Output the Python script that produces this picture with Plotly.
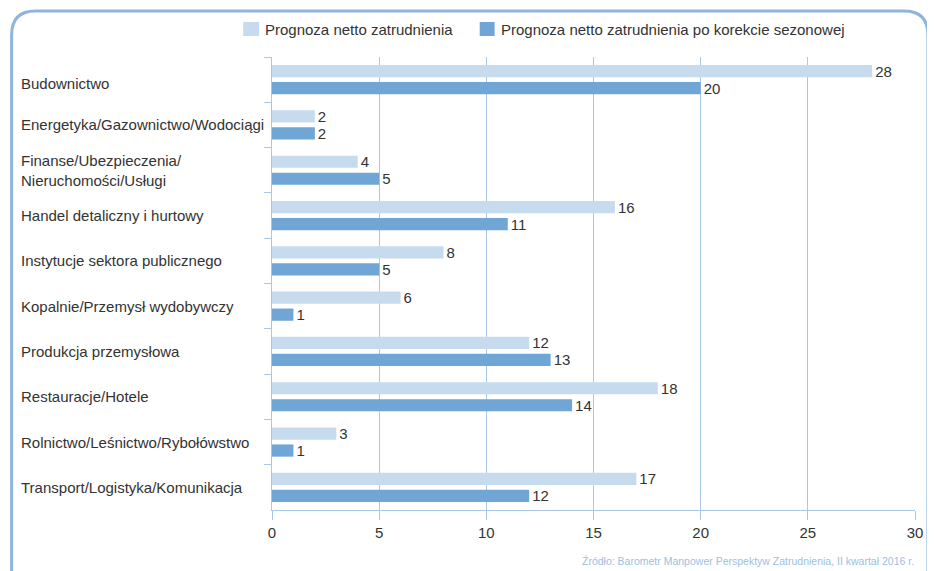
import plotly.graph_objects as go

categories = [
    "Budownictwo",
    "Energetyka/Gazownictwo/Wodociągi",
    "Finanse/Ubezpieczenia/<br>Nieruchomości/Usługi",
    "Handel detaliczny i hurtowy",
    "Instytucje sektora publicznego",
    "Kopalnie/Przemysł wydobywczy",
    "Produkcja przemysłowa",
    "Restauracje/Hotele",
    "Rolnictwo/Leśnictwo/Rybołówstwo",
    "Transport/Logistyka/Komunikacja",
]
netto = [28, 2, 4, 16, 8, 6, 12, 18, 3, 17]
netto_sezon = [20, 2, 5, 11, 5, 1, 13, 14, 1, 12]
series_names = ["Prognoza netto zatrudnienia",
                "Prognoza netto zatrudnienia po korekcie sezonowej"]
x_ticks = [0, 5, 10, 15, 20, 25, 30]
source_text = "Źródło: Barometr Manpower Perspektyw Zatrudnienia, II kwartał 2016 r."

# page body has an 8px margin -> figure placed at (8,8)
OFF = 8
W, H = 935 - OFF, 571 - OFF
L, R, T, B = 272 - OFF, 16, 57 - OFF, 61
PW, PH = W - L - R, H - T - B

LIGHT = "#c7dbee"
DARK = "#6fa6d6"
GRID = "#a9c8e6"
TXT = "#333333"
FONT = "Liberation Sans, Arial, sans-serif"
FS = 15


def px(x):
    # x in page pixels -> paper coordinate
    return (x - OFF - L) / PW


def py(y):
    return 1 - (y - OFF - T) / PH


fig = go.Figure()
for name, vals, col in [(series_names[0], netto, LIGHT), (series_names[1], netto_sezon, DARK)]:
    fig.add_trace(go.Bar(
        y=categories, x=vals, orientation="h", name=name,
        marker=dict(color=col, line=dict(width=0)),
        text=[str(v) for v in vals], textposition="outside",
        constraintext="none",
        textfont=dict(size=FS, color=TXT, family=FONT),
        cliponaxis=False,
    ))

annotations = []
for i, c in enumerate(categories):
    annotations.append(dict(
        x=px(17), xref="paper", y=c, yref="y", text=c, showarrow=False,
        xanchor="left", yanchor="middle", align="left",
        yshift=-4 if i == 0 else 0,
        font=dict(size=FS, color=TXT, family=FONT),
    ))

# legend (custom)
shapes = []
for (x0, x1, tx, col, name) in [(243, 259, 263, LIGHT, series_names[0]),
                                (481, 496, 500, DARK, series_names[1])]:
    shapes.append(dict(type="rect", xref="paper", yref="paper",
                       x0=px(x0), x1=px(x1), y0=py(36), y1=py(22),
                       fillcolor=col, line=dict(width=0)))
    annotations.append(dict(x=px(tx), xref="paper", y=py(30), yref="paper",
                            text=name, showarrow=False, xanchor="left",
                            yanchor="middle",
                            font=dict(size=FS, color=TXT, family=FONT)))

annotations.append(dict(x=px(920), xref="paper", y=py(561), yref="paper",
                        text=source_text, showarrow=False, xanchor="right",
                        yanchor="middle",
                        font=dict(size=10.5, color="#9cc0e2", family=FONT)))

# rounded frame
l0, t0, r0, b0, rad = 10, 11, 932, 600, 24
path = (f"M {px(l0)},{py(b0)} L {px(l0)},{py(t0 + rad)} "
        f"Q {px(l0)},{py(t0)} {px(l0 + rad)},{py(t0)} "
        f"L {px(r0 - rad)},{py(t0)} Q {px(r0)},{py(t0)} {px(r0)},{py(t0 + rad)} "
        f"L {px(r0)},{py(b0)}")
shapes.append(dict(type="path", xref="paper", yref="paper", path=path,
                   line=dict(color="#8fb5de", width=3), layer="below"))

fig.update_layout(
    width=W, height=H,
    margin=dict(l=L, r=R, t=T, b=B, pad=0),
    barmode="group", bargap=0.25, bargroupgap=0.28,
    plot_bgcolor="white", paper_bgcolor="white",
    showlegend=False,
    annotations=annotations, shapes=shapes,
    font=dict(family=FONT, color=TXT),
    xaxis=dict(range=[0, 30], tickvals=x_ticks, showgrid=True, gridcolor=GRID,
               gridwidth=1, zeroline=False, showline=True, linecolor=GRID,
               linewidth=1, ticks="outside", ticklen=9, tickcolor=GRID,
               tickfont=dict(size=FS, color=TXT, family=FONT), fixedrange=True),
    yaxis=dict(type="category", categoryorder="array", categoryarray=categories,
               autorange="reversed", showticklabels=False, ticks="outside",
               tickson="boundaries", ticklen=7, tickcolor=GRID, showgrid=False,
               showline=True, linecolor=GRID, linewidth=1, zeroline=False),
)

fig.write_html("out.html")
